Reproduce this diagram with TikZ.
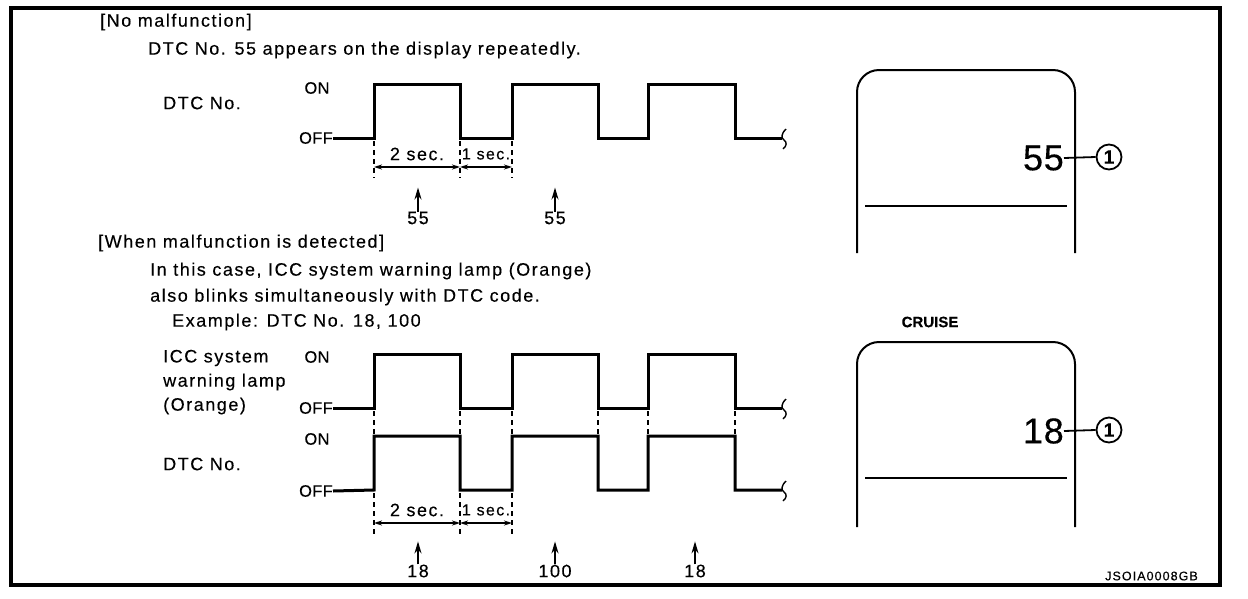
\documentclass[tikz,border=0pt]{standalone}
\usepackage{fontspec}
\setmainfont{Liberation Sans}[LetterSpace=8.5,FakeBold=0.3]
\usetikzlibrary{arrows.meta}
\begin{document}
\begin{tikzpicture}[x=1pt,y=-1pt,
 txt/.style={font=\fontsize{18}{20}\selectfont, inner sep=0pt},
 lvl/.style={font=\fontsize{16.5}{19}\selectfont\addfontfeature{LetterSpace=2}, inner sep=0pt},
 smalltxt/.style={font=\fontsize{16}{18}\selectfont, inner sep=0pt},
 bigtxt/.style={font=\fontsize{36}{40}\selectfont\addfontfeature{LetterSpace=2}, inner sep=0pt},
 wave/.style={line width=3pt, line join=miter},
 dsh/.style={line width=1.6pt, dash pattern=on 5pt off 4pt},
 dim/.style={line width=1.5pt, {Stealth[length=8pt,width=5pt]}-{Stealth[length=8pt,width=5pt]}},
 uparr/.style={line width=1.8pt, -{Stealth[length=12pt,width=7pt]}},
 disp/.style={line width=2pt, rounded corners=22pt},
 circ/.style={draw, circle, line width=1.8pt, minimum size=25pt, inner sep=0pt, font=\fontsize{19}{19}\selectfont\bfseries\addfontfeature{LetterSpace=0}},
]
\useasboundingbox (0,0) rectangle (1248,598);
\draw[line width=4pt] (11,8) rectangle (1220,585);

% ---------- top section ----------
\node[txt, anchor=west] (t1) at (100,22) {[No malfunction]};
\node[txt, anchor=west] (t2) at (148,50) {DTC No. 55 appears on the display repeatedly.};
\node[txt, anchor=west] (dtc1) at (163,103) {DTC No.};
\node[lvl] (on1) at (317,88) {ON};
\node[lvl, anchor=east] (off1) at (333,138) {OFF};

\coordinate (e1) at (782,138);
\draw[wave] (off1.east) -- (374,138) -- (374,84) -- (460,84) -- (460,138) -- (512,138) -- (512,84) -- (598,84) -- (598,138) -- (648,138) -- (648,84) -- (735,84) -- (735,138) -- (e1);
\draw[line width=1.4pt] (786,129) .. controls (781,134) and (781,138) .. (784,140) .. controls (787,142) and (787,146) .. (783,149);

\foreach \x in {374,460,512} \draw[dsh] (\x,141) -- (\x,178);
\coordinate (a1) at (374,167); \coordinate (a2) at (460,167); \coordinate (a3) at (512,167);
\draw[dim] (a1) -- (a2);
\draw[dim] (a2) -- (a3);
\node[txt] (s2a) at (417,154) {2 sec.};
\node[smalltxt] (s1a) at (486,154) {1 sec.};

\node[txt] (n55a) at (418,218) {55};
\node[txt] (n55b) at (555,218) {55};
\draw[uparr] (n55a.north) -- ++(0,-24);
\draw[uparr, line width=1.3pt] (n55b.north) -- ++(0,-24);

% ---------- bottom section ----------
\node[txt, anchor=west] (t3) at (98,243) {[When malfunction is detected]};
\node[txt, anchor=west] (t4) at (150,271) {In this case, ICC system warning lamp (Orange)};
\node[txt, anchor=west] (t5) at (150,297) {also blinks simultaneously with DTC code.};
\node[txt, anchor=west] (t6) at (172,322) {Example: DTC No. 18, 100};

\node[txt, anchor=west] (icc1) at (163,358) {ICC system};
\node[txt, anchor=west] (icc2) at (163,382) {warning lamp};
\node[txt, anchor=west] (icc3) at (163,406) {(Orange)};
\node[txt, anchor=west] (dtc2) at (163,464) {DTC No.};

\node[lvl] (on2) at (317,357) {ON};
\node[lvl, anchor=east] (off2) at (333,408) {OFF};
\node[lvl] (on3) at (317,439) {ON};
\node[lvl, anchor=east] (off3) at (333,491) {OFF};

\coordinate (e2) at (782,408);
\coordinate (e3) at (782,490);
\draw[wave] (off2.east) -- (374,408) -- (374,354) -- (460,354) -- (460,408) -- (512,408) -- (512,354) -- (598,354) -- (598,408) -- (648,408) -- (648,354) -- (735,354) -- (735,408) -- (e2);
\draw[wave] (off3.east) -- (374,490) -- (374,436) -- (460,436) -- (460,490) -- (512,490) -- (512,436) -- (598,436) -- (598,490) -- (648,490) -- (648,436) -- (735,436) -- (735,490) -- (e3);
\draw[line width=1.4pt] (786,399) .. controls (781,404) and (781,408) .. (784,410) .. controls (787,412) and (787,416) .. (783,419);
\draw[line width=1.4pt] (786,481) .. controls (781,486) and (781,490) .. (784,492) .. controls (787,494) and (787,498) .. (783,501);

\foreach \x in {374,460,512,598,648,735} \draw[dsh] (\x,411) -- (\x,434);
\foreach \x in {374,460,512} \draw[dsh] (\x,493) -- (\x,536);
\coordinate (b1) at (374,523); \coordinate (b2) at (460,523); \coordinate (b3) at (512,523);
\draw[dim] (b1) -- (b2);
\draw[dim] (b2) -- (b3);
\node[txt] (s2b) at (417,510) {2 sec.};
\node[smalltxt] (s1b) at (486,510) {1 sec.};

\node[txt] (n18a) at (418,571) {18};
\node[txt] (n100) at (555,571) {100};
\node[txt] (n18b) at (695,571) {18};
\draw[uparr] (n18a.north) -- ++(0,-23);
\draw[uparr] (n100.north) -- ++(0,-23);
\draw[uparr, line width=1.3pt] (n18b.north) -- ++(0,-23);

% ---------- displays ----------
\draw[disp] (857,253) -- (857,70) -- (1075,70) -- (1075,253);
\draw[line width=1.5pt] (865,206) -- (1067,206);
\node[bigtxt, anchor=east] (d55) at (1064,158) {55};
\node[circ] (c1) at (1109,157) {1};
\draw[line width=1.8pt] (d55.east) -- (c1.west);

\node[font=\fontsize{15}{15}\selectfont\bfseries\addfontfeature{LetterSpace=0}, inner sep=0pt] (cruise) at (930,322) {CRUISE};
\draw[disp] (857,527) -- (857,342) -- (1075,342) -- (1075,527);
\draw[line width=1.5pt] (865,478) -- (1067,478);
\node[bigtxt, anchor=east] (d18) at (1064,431) {18};
\node[circ] (c2) at (1109,430) {1};
\draw[line width=1.8pt] (d18.east) -- (c2.west);

\node[font=\fontsize{12.5}{13}\selectfont, inner sep=0pt, anchor=east] (code) at (1198,576) {JSOIA0008GB};
\end{tikzpicture}
\end{document}
